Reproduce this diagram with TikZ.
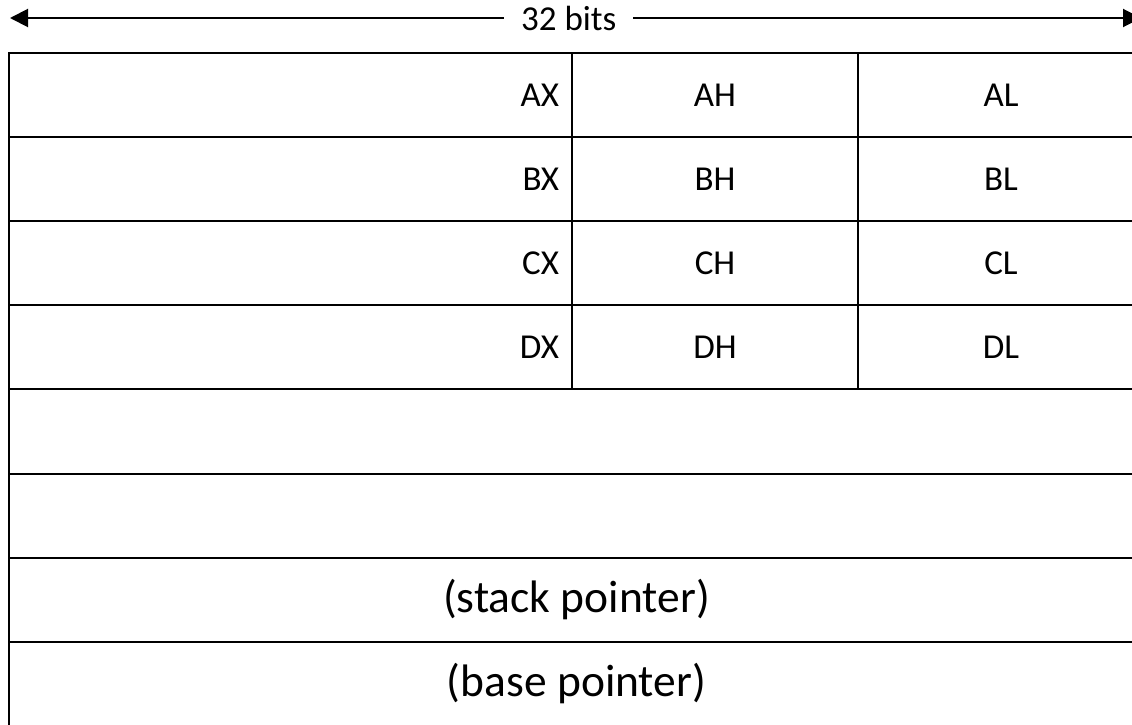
\documentclass[tikz,border=0pt]{standalone}
\usepackage{fontspec}
\setmainfont{Carlito}
\usetikzlibrary{arrows.meta, positioning}

\begin{document}
\begin{tikzpicture}[x=1pt, y=-1pt, node distance=0pt, every node/.style={outer sep=0pt}]
    % Styles
    \tikzstyle{reg} = [rectangle, draw, line width=2pt, minimum height=84.1pt, inner sep=0pt, font=\fontsize{35}{40}\selectfont]
    \tikzstyle{wide} = [reg, text width=537pt, inner xsep=13pt, align=right]
    \tikzstyle{half} = [reg, minimum width=286pt]
    \tikzstyle{full} = [reg, minimum width=1135pt, font=\fontsize{45.5}{52}\selectfont]
    \tikzstyle{arrow} = [line width=2pt, {Triangle[length=18pt,width=18pt]}-{Triangle[length=18pt,width=18pt]}]

    \useasboundingbox (0,0) rectangle (1132,725);

    % Nodes
    \node [wide, anchor=north west] (ax) at (9,53) {AX};
    \node [half, right=of ax] (ah) {AH};
    \node [half, right=of ah] (al) {AL};
    \node [wide, below=of ax] (bx) {BX};
    \node [half, right=of bx] (bh) {BH};
    \node [half, right=of bh] (bl) {BL};
    \node [wide, below=of bx] (cx) {CX};
    \node [half, right=of cx] (ch) {CH};
    \node [half, right=of ch] (cl) {CL};
    \node [wide, below=of cx] (dx) {DX};
    \node [half, right=of dx] (dh) {DH};
    \node [half, right=of dh] (dl) {DL};
    \node [full, anchor=north west] (si) at (dx.south west) {};
    \node [full, below=of si] (di) {};
    \node [full, below=of di] (sp) {(stack pointer)};
    \node [full, below=of sp] (bp) {(base pointer)};

    % Arrows
    \coordinate (lend) at (10,18);
    \coordinate (rend) at (1141,18);
    \draw [arrow] (lend) -- node [pos=0.494, fill=white, inner xsep=17pt, font=\fontsize{35}{40}\selectfont] (bits) {32 bits} (rend);
\end{tikzpicture}
\end{document}
